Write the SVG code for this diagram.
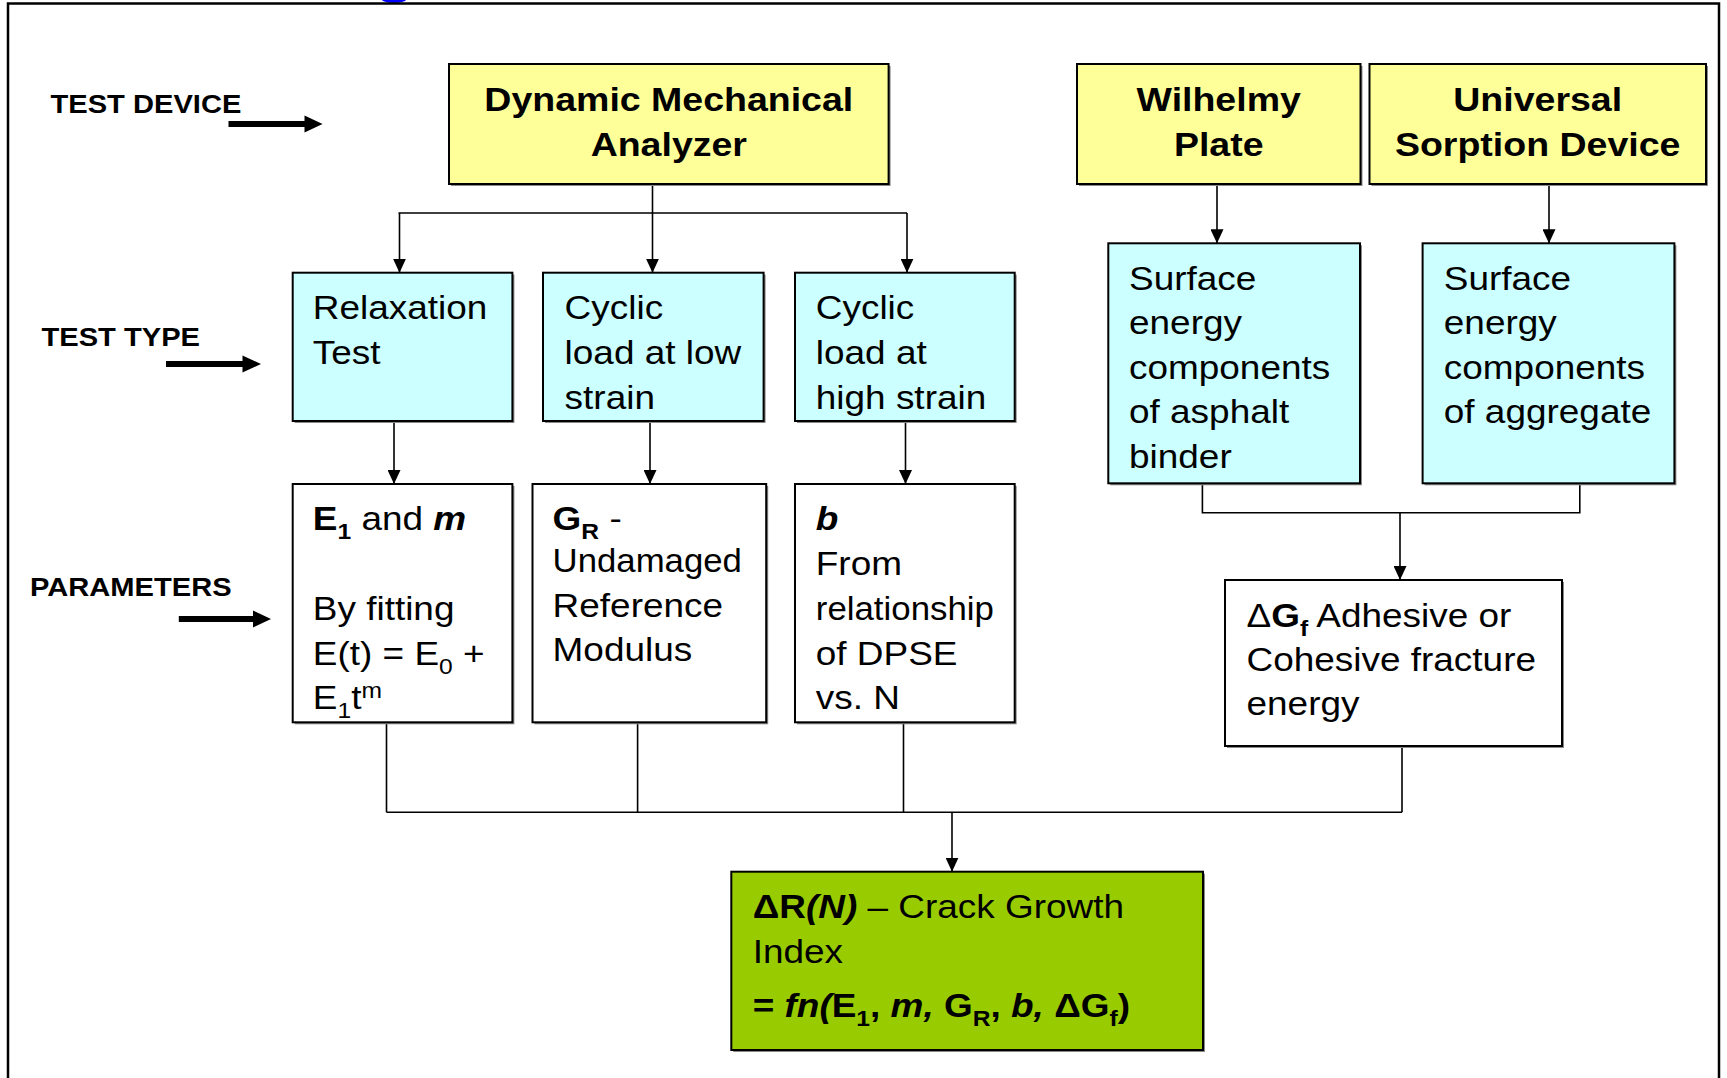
<svg xmlns="http://www.w3.org/2000/svg" width="1727" height="1078" viewBox="0 0 1727 1078">
<style>
.frame{fill:none;stroke:#000;stroke-width:2.5}
.box{stroke:#000;stroke-width:2}
.sh{fill:#8a8a8a}
.y{fill:#FFFF99}.c{fill:#CCFFFF}.w{fill:#FFFFFF}.g{fill:#99CC00}
text{font-family:"Liberation Sans",Arial,sans-serif;fill:#000}
.h{font-size:33.5px;font-weight:bold;text-anchor:middle}
.t{font-size:33px}
.l{font-size:26px;font-weight:bold}
.bd{font-weight:bold}
.bi{font-weight:bold;font-style:italic}
.sub{font-size:22px}
.con{stroke:#000;stroke-width:1.6;fill:none}
.arr{marker-end:url(#ah)}
.big{fill:#000}
</style>
<defs>
<marker id="ah" viewBox="0 0 14 13" markerWidth="14" markerHeight="13" refX="14" refY="6.5" orient="auto" markerUnits="userSpaceOnUse">
<path d="M0,0 L14,6.5 L0,13 z" fill="#000"/>
</marker>
</defs>
<rect width="1727" height="1078" fill="#fff"/>
<ellipse cx="394" cy="-1" rx="12.5" ry="4" fill="#0000FF"/>
<rect class="frame" x="8" y="3.5" width="1711" height="1100"/>

<g id="label-test-device">
<text class="l" transform="translate(50.5,0) scale(1.12,1)" x="0" y="113">TEST DEVICE</text>
<rect class="big" x="228.5" y="121" width="78" height="6"/>
<polygon class="big" points="304.5,115.5 322.6,124 304.5,132.5"/>
</g>
<g id="label-test-type">
<text class="l" transform="translate(41.5,0) scale(1.12,1)" x="0" y="346">TEST TYPE</text>
<rect class="big" x="166" y="361" width="78" height="6"/>
<polygon class="big" points="242.5,355.5 261,364 242.5,372.5"/>
</g>
<g id="label-parameters">
<text class="l" transform="translate(30,0) scale(1.12,1)" x="0" y="596">PARAMETERS</text>
<rect class="big" x="178.8" y="616" width="76" height="6"/>
<polygon class="big" points="253,610.5 271,619 253,627.5"/>
</g>

<g id="connectors">
<path class="con" d="M652.5,184 V213 M398.5,213 H907"/>
<path class="con arr" d="M399.5,213 V272.7"/>
<path class="con arr" d="M652.5,213 V272.7"/>
<path class="con arr" d="M907,213 V272.7"/>
<path class="con arr" d="M394,421 V484"/>
<path class="con arr" d="M650,421 V484"/>
<path class="con arr" d="M905.5,421 V484"/>
<path class="con arr" d="M1217,184 V243.3"/>
<path class="con arr" d="M1549,184 V243.3"/>
<path class="con" d="M1202.4,483.3 V512.7 H1579.8 V483.3"/>
<path class="con arr" d="M1400,512.7 V580"/>
<path class="con" d="M386.5,722.3 V812.3 M637.6,722.3 V812.3 M903.5,722.3 V812.3 M1402,746 V812.3 M386.5,812.3 H1402"/>
<path class="con arr" d="M952,812.3 V871.7"/>
</g>

<g id="node-dma">
<rect class="sh" x="451" y="66" width="439.6" height="120"/>
<rect class="box y" x="449" y="64" width="439.6" height="120"/>
<text class="h" transform="translate(668.8,0) scale(1.12,1)"><tspan x="0" y="111">Dynamic Mechanical</tspan><tspan x="0" y="156">Analyzer</tspan></text>
</g>
<g id="node-wilhelmy">
<rect class="sh" x="1079" y="66" width="283.5" height="120"/>
<rect class="box y" x="1077" y="64" width="283.5" height="120"/>
<text class="h" transform="translate(1218.7,0) scale(1.12,1)"><tspan x="0" y="111">Wilhelmy</tspan><tspan x="0" y="156">Plate</tspan></text>
</g>
<g id="node-usd">
<rect class="sh" x="1371.5" y="66" width="336.5" height="120"/>
<rect class="box y" x="1369.5" y="64" width="336.5" height="120"/>
<text class="h" transform="translate(1537.7,0) scale(1.12,1)"><tspan x="0" y="111">Universal</tspan><tspan x="0" y="156">Sorption Device</tspan></text>
</g>

<g id="node-relaxation">
<rect class="sh" x="294.7" y="274.7" width="219.7" height="148.3"/>
<rect class="box c" x="292.7" y="272.7" width="219.7" height="148.3"/>
<text class="t" transform="translate(312.8,0) scale(1.12,1)"><tspan x="0" y="319">Relaxation</tspan><tspan x="0" y="364">Test</tspan></text>
</g>
<g id="node-cyclic-low">
<rect class="sh" x="545" y="274.7" width="220.6" height="148.3"/>
<rect class="box c" x="543" y="272.7" width="220.6" height="148.3"/>
<text class="t" transform="translate(564.6,0) scale(1.12,1)"><tspan x="0" y="319">Cyclic</tspan><tspan x="0" y="364">load at low</tspan><tspan x="0" y="409">strain</tspan></text>
</g>
<g id="node-cyclic-high">
<rect class="sh" x="797" y="274.7" width="219.7" height="148.3"/>
<rect class="box c" x="795" y="272.7" width="219.7" height="148.3"/>
<text class="t" transform="translate(815.8,0) scale(1.12,1)"><tspan x="0" y="319">Cyclic</tspan><tspan x="0" y="364">load at</tspan><tspan x="0" y="409">high strain</tspan></text>
</g>
<g id="node-surface-binder">
<rect class="sh" x="1110.3" y="245.3" width="251.7" height="240"/>
<rect class="box c" x="1108.3" y="243.3" width="251.7" height="240"/>
<text class="t" transform="translate(1129,0) scale(1.12,1)"><tspan x="0" y="290">Surface</tspan><tspan x="0" y="334.5">energy</tspan><tspan x="0" y="379">components</tspan><tspan x="0" y="423.5">of asphalt</tspan><tspan x="0" y="468">binder</tspan></text>
</g>
<g id="node-surface-aggregate">
<rect class="sh" x="1424.6" y="245.3" width="251.8" height="240"/>
<rect class="box c" x="1422.6" y="243.3" width="251.8" height="240"/>
<text class="t" transform="translate(1443.8,0) scale(1.12,1)"><tspan x="0" y="290">Surface</tspan><tspan x="0" y="334.5">energy</tspan><tspan x="0" y="379">components</tspan><tspan x="0" y="423.5">of aggregate</tspan></text>
</g>

<g id="node-param-e1">
<rect class="sh" x="294.7" y="486" width="219.7" height="238.3"/>
<rect class="box w" x="292.7" y="484" width="219.7" height="238.3"/>
<text class="t" transform="translate(312.8,0) scale(1.12,1)"><tspan x="0" y="530"><tspan class="bd">E</tspan><tspan class="bd sub" dy="9">1</tspan><tspan dy="-9"> and </tspan><tspan class="bi">m</tspan></tspan><tspan x="0" y="620">By fitting</tspan><tspan x="0" y="665">E(t) = E<tspan class="sub" dy="9">0</tspan><tspan dy="-9"> +</tspan></tspan><tspan x="0" y="709.3">E<tspan class="sub" dy="9">1</tspan><tspan dy="-9">t</tspan><tspan class="sub" dy="-11">m</tspan></tspan></text>
</g>
<g id="node-param-gr">
<rect class="sh" x="534.5" y="486" width="233.7" height="238.3"/>
<rect class="box w" x="532.5" y="484" width="233.7" height="238.3"/>
<text class="t" transform="translate(552.6,0) scale(1.12,1)"><tspan x="0" y="530"><tspan class="bd">G</tspan><tspan class="bd sub" dy="9">R</tspan><tspan dy="-9">  -</tspan></tspan><tspan x="0" y="572" textLength="169" lengthAdjust="spacingAndGlyphs">Undamaged</tspan><tspan x="0" y="616.7">Reference</tspan><tspan x="0" y="661">Modulus</tspan></text>
</g>
<g id="node-param-b">
<rect class="sh" x="797" y="486" width="219.7" height="238.3"/>
<rect class="box w" x="795" y="484" width="219.7" height="238.3"/>
<text class="t" transform="translate(815.8,0) scale(1.12,1)"><tspan x="0" y="530" class="bi">b</tspan><tspan x="0" y="575">From</tspan><tspan x="0" y="620" textLength="159" lengthAdjust="spacingAndGlyphs">relationship</tspan><tspan x="0" y="665">of DPSE</tspan><tspan x="0" y="709.3">vs. N</tspan></text>
</g>
<g id="node-dgf">
<rect class="sh" x="1227" y="582" width="337" height="166"/>
<rect class="box w" x="1225" y="580" width="337" height="166"/>
<text class="t" transform="translate(1246.5,0) scale(1.12,1)"><tspan x="0" y="626.7">Δ<tspan class="bd">G</tspan><tspan class="bd sub" dy="9">f</tspan><tspan dy="-9"> Adhesive or</tspan></tspan><tspan x="0" y="671">Cohesive fracture</tspan><tspan x="0" y="715">energy</tspan></text>
</g>

<g id="node-crack-growth">
<rect class="sh" x="733.3" y="873.7" width="471.7" height="178.3"/>
<rect class="box g" x="731.3" y="871.7" width="471.7" height="178.3"/>
<text class="t" transform="translate(752.7,0) scale(1.12,1)"><tspan x="0" y="918.3"><tspan class="bd">ΔR</tspan><tspan class="bi">(N)</tspan> – Crack Growth</tspan><tspan x="0" y="963.3">Index</tspan><tspan x="0" y="1016.7" class="bd">= <tspan class="bi">fn(</tspan>E<tspan class="sub" dy="9">1</tspan><tspan dy="-9">, </tspan><tspan class="bi">m,</tspan> G<tspan class="sub" dy="9">R</tspan><tspan dy="-9">, </tspan><tspan class="bi">b,</tspan> ΔG<tspan class="sub" dy="9">f</tspan><tspan dy="-9">)</tspan></tspan></text>
</g>
</svg>
